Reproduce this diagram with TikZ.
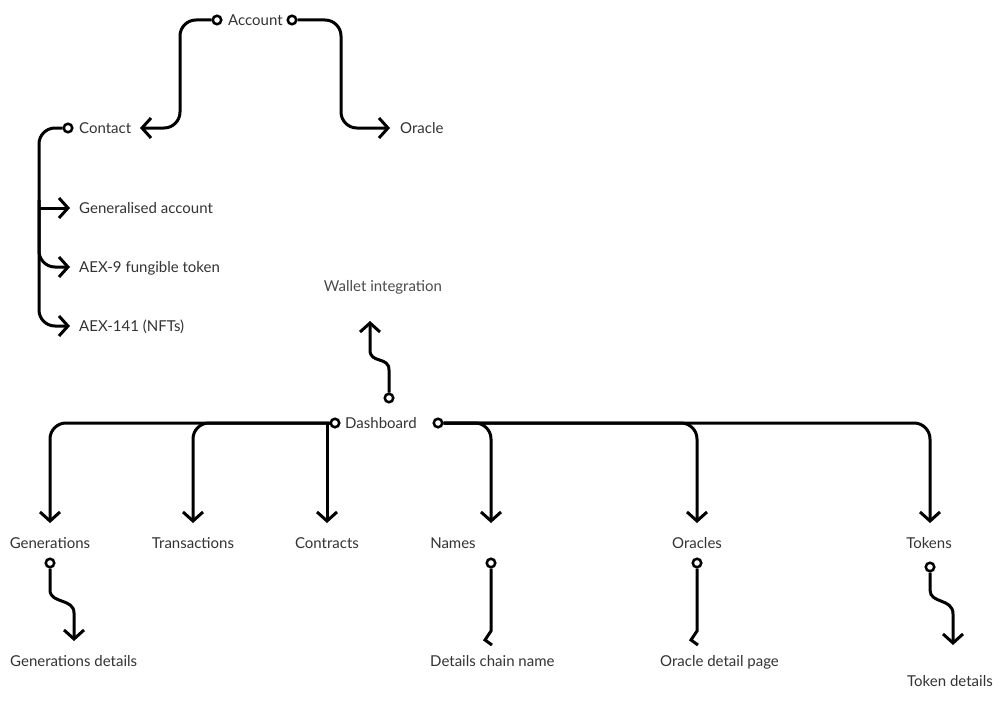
\documentclass[tikz,border=0pt]{standalone}
\usepackage{fontspec}
\setmainfont{Lato}
\usetikzlibrary{arrows.meta}

\begin{document}
\begin{tikzpicture}[x=1pt, y=-1pt,
dot/.style={
circle,
draw,
fill=white,
line width=2.5pt,
minimum size=8.5pt,
inner sep=0pt
},
lbl/.style={inner sep=0pt, text height=11pt, text depth=0pt, font=\fontsize{15}{18}\selectfont, text=black!80},
link/.style={line width=3pt, rounded corners=16pt},
arrow/.style={link, -{Straight Barb[length=9pt, width=20pt]}}
]

\fill[white] (0,0) rectangle (1005,701);

% account and its two pages
\node[dot] (accL) at (217,20) {};
\node[dot] (accR) at (292,20) {};
\node[lbl, anchor=west] (account) at (228,20) {Account};

\node[dot] (contactDot) at (68,128) {};
\node[lbl, anchor=west] (contact) at (79,128) {Contact};
\node[lbl, anchor=west] (oracle) at (400,128) {Oracle};

\node[lbl, anchor=west] (genacc) at (79,208) {Generalised account};
\node[lbl, anchor=west] (aex9) at (79,267) {AEX-9 fungible token};
\node[lbl, anchor=west] (aex141) at (79,326) {AEX-141 (NFTs)};

\coordinate (contactIn) at (140,128);
\coordinate (oracleIn) at (390,128);
\coordinate (genaccIn) at (70,208);
\coordinate (aex9In) at (70,267);
\coordinate (aex141In) at (70,326);
\coordinate (trunk) at (39,200);

\draw[arrow] (accL.west) -| (180,74) |- (contactIn);
\draw[arrow] (accR.east) -| (341,74) |- (oracleIn);

\draw[arrow] (contactDot.west) -| (trunk) |- (aex141In);
\draw[arrow] (trunk) |- (aex9In);
\draw[arrow] (genaccIn -| trunk) -- (genaccIn);

% dashboard
\node[dot] (wallDot) at (389,398) {};
\node[lbl, text=black!70] (wallet) at (383,286) {Wallet integration};
\coordinate (wallIn) at (370,321);
\draw[arrow, sharp corners] (wallDot.north) -- (389,370) .. controls (389,356) and (370,364) .. (370,350) -- (wallIn);

\node[dot] (dashL) at (335,423) {};
\node[dot] (dashR) at (438,423) {};
\node[lbl, anchor=west] (dashboard) at (345,423) {Dashboard};

\node[lbl] (generations) at (50,543) {Generations};
\node[lbl] (transactions) at (193,543) {Transactions};
\node[lbl] (contracts) at (327,543) {Contracts};
\node[lbl] (names) at (453,543) {Names};
\node[lbl] (oracles) at (697,543) {Oracles};
\node[lbl] (tokens) at (929,543) {Tokens};

\coordinate (genIn) at (50,523);
\coordinate (transIn) at (193,523);
\coordinate (contrIn) at (327,523);
\coordinate (namesIn) at (491,523);
\coordinate (oraIn) at (697,523);
\coordinate (tokIn) at (930,523);

\draw[arrow] (dashL.west) -| (genIn);
\draw[arrow] (dashL.west) -| (transIn);
\draw[arrow, sharp corners] (dashL.west) -| (contrIn);
\draw[arrow] (dashR.east) -| (namesIn);
\draw[arrow] (dashR.east) -| (oraIn);
\draw[arrow] (dashR.east) -| (tokIn);

% detail pages
\node[dot] (genDot) at (50,563) {};
\node[dot] (namesDot) at (491,563) {};
\node[dot] (oraDot) at (697,563) {};
\node[dot] (tokDot) at (930,567) {};

\node[lbl, anchor=west] (gendet) at (10,661) {Generations details};
\node[lbl, anchor=west] (chain) at (430,661) {Details chain name};
\node[lbl, anchor=west] (oradet) at (660,661) {Oracle detail page};
\node[lbl, anchor=west] (tokdet) at (907,681) {Token details};

\coordinate (gendetIn) at (74,641);
\coordinate (chainIn) at (491,631);
\coordinate (oradetIn) at (697,631);
\coordinate (tokdetIn) at (953,645);

\draw[arrow, sharp corners] (genDot.south) -- (50,590) .. controls (50,604) and (74,598) .. (74,613) -- (gendetIn);
\draw[link, sharp corners] (namesDot.south) -- (chainIn) -- ++(-6,9) -- ++(7,5);
\draw[link, sharp corners] (oraDot.south) -- (oradetIn) -- ++(-6,9) -- ++(7,5);
\draw[arrow, sharp corners] (tokDot.south) -- (930,590) .. controls (930,604) and (953,598) .. (953,614) -- (tokdetIn);

\end{tikzpicture}
\end{document}
